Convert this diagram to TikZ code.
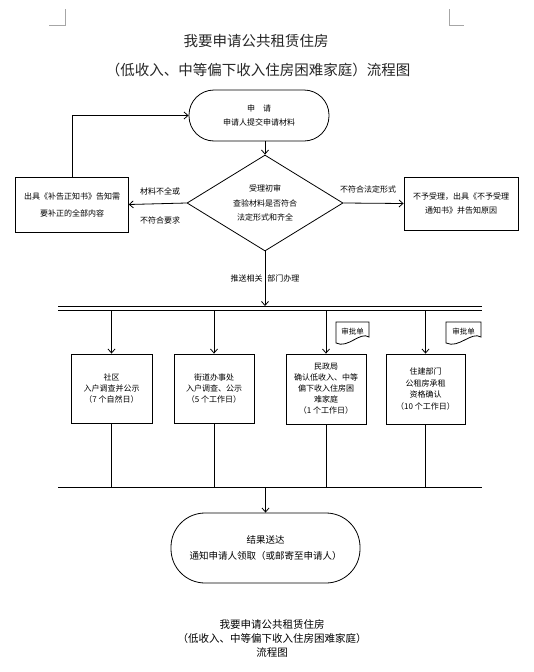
\documentclass[tikz,border=0pt]{standalone}
\usepackage{fontspec}
\setmainfont{Noto Sans CJK SC}
\usetikzlibrary{arrows.meta,shapes.geometric}
\begin{document}
\begin{tikzpicture}[x=1pt,y=-1pt,
  line width=0.8pt,
  arr/.style={-{Straight Barb[length=4pt,width=7pt,line width=0.8pt]}},
  box/.style={draw,rectangle,inner sep=0pt,align=center,font=\fontsize{8}{11}\selectfont},
  term/.style={draw,rectangle,inner sep=0pt,align=center},
  lab/.style={inner sep=0pt,font=\fontsize{8}{10}\selectfont},
  crop/.style={draw=black!35,line width=0.6pt},
  ttl/.style={inner sep=0pt,text=black!85,font=\fontsize{14.5}{16}\selectfont}
]
\useasboundingbox (0,0) rectangle (534,672);
\fill[white] (0,0) rectangle (534,672);

% crop marks
\draw[crop] (49,25) -- (65,25) -- (65,9);
\draw[crop] (449,9) -- (449,25) -- (464,25);

% titles
\node[ttl] (t1) at (256,41) {我要申请公共租赁住房};
\node[ttl] (t2) at (258,70) {（低收入、中等偏下收入住房困难家庭）流程图};

% start terminal
\node[term,minimum width=140pt,minimum height=51pt,rounded corners=25pt,
      font=\fontsize{8}{14}\selectfont] (start) at (259,115.5)
  {申\hspace{1em}请\\申请人提交申请材料};

% decision
\node[draw,diamond,inner sep=0pt,aspect=1.6,minimum width=156pt,minimum height=96pt,
      align=center,font=\fontsize{8}{14.5}\selectfont] (dia) at (265,203)
  {受理初审\\查验材料是否符合\\法定形式和齐全};

% left / right boxes
\node[box,minimum width=112.6pt,minimum height=55pt,font=\fontsize{8}{17}\selectfont] (lbox) at (72,204.5)
  {出具《补告正知书》告知需\\要补正的全部内容};
\node[box,minimum width=114pt,minimum height=53pt,font=\fontsize{8}{14.3}\selectfont] (rbox) at (461,203.5)
  {不予受理，出具《不予受理\\通知书》并告知原因};

\draw[arr] (dia.west) -- (lbox.east);
\draw[arr] (dia.east) -- (rbox.west);
\draw[arr] (lbox.north) |- (start.west);
\draw[arr] (start.south -| dia.north) -- (dia.north);

\node[lab] (l1) at (160,191) {材料不全或};
\node[lab] (l2) at (160,220) {不符合要求};
\node[lab] (l3) at (368,189) {不符合法定形式};
\node[lab,anchor=east] (l4) at (263,278) {推送相关};
\node[lab,anchor=west] (l5) at (267,278) {部门办理};

% distribution bus
\coordinate (busA) at (58,306);
\coordinate (busAe) at (482,306);
\coordinate (busB) at (58,310);
\coordinate (busBe) at (482,310);
\draw (busA) -- (busAe);
\draw (busB) -- (busBe);
\draw[arr] (dia.south) -- (dia.south |- busA);

% department boxes
\node[box,minimum width=81pt,minimum height=69pt] (b1) at (111.5,388.5)
  {社区\\入户调查并公示\\（7 个自然日）};
\node[box,minimum width=80pt,minimum height=69pt] (b2) at (214,388.5)
  {街道办事处\\入户调查、公示\\（5 个工作日）};
\node[box,minimum width=80pt,minimum height=70pt] (b3) at (326,389)
  {民政局\\确认低收入、中等\\偏下收入住房困\\难家庭\\（1 个工作日）};
\node[box,minimum width=79pt,minimum height=70pt,font=\fontsize{8}{11.6}\selectfont] (b4) at (425.5,389)
  {住建部门\\公租房承租\\资格确认\\（10 个工作日）};

\foreach \b in {b1,b2,b3,b4}{
  \draw[arr] (\b.north |- busB) -- (\b.north);
}

% document shapes
\draw (336,322) -- (369,322) -- (369,337) .. controls (360,331) and (348,349) .. (336,343) -- cycle;
\node[lab,font=\fontsize{7.5}{9}\selectfont] (d1) at (352.5,331.5) {审批单};
\draw (446,322) -- (481,322) -- (481,337) .. controls (471,331) and (459,349) .. (446,343) -- cycle;
\node[lab,font=\fontsize{7.5}{9}\selectfont] (d2) at (463.5,331.5) {审批单};

% collecting bus
\coordinate (cbL) at (58,487);
\coordinate (cbR) at (482,487);
\draw (cbL) -- (cbR);
\foreach \b in {b1,b2,b3,b4}{
  \draw (\b.south) -- (\b.south |- cbL);
}

% end terminal
\node[term,minimum width=189pt,minimum height=70pt,rounded corners=34pt,
      font=\fontsize{9.5}{16}\selectfont] (end) at (265.5,548)
  {结果送达\\通知申请人领取（或邮寄至申请人）};
\draw[arr] (end.north |- cbL) -- (end.north);

% bottom caption
\node[inner sep=0pt,align=center,font=\fontsize{10.5}{14}\selectfont] (cap) at (272,638)
  {我要申请公共租赁住房\\（低收入、中等偏下收入住房困难家庭）\\流程图};
\end{tikzpicture}
\end{document}
